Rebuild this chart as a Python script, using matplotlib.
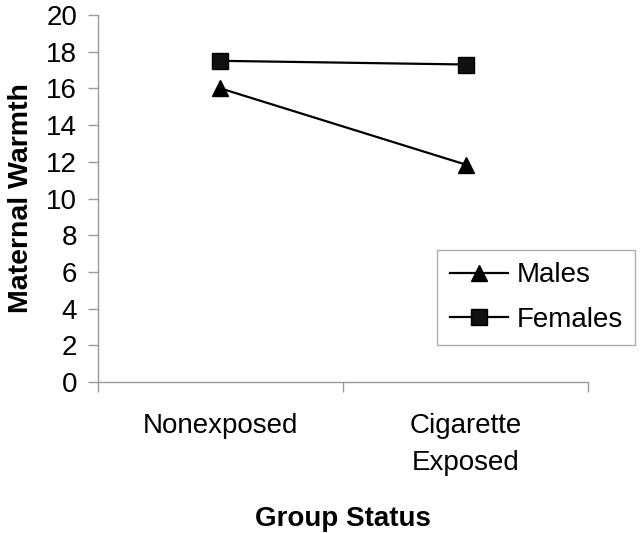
import matplotlib.pyplot as plt
from matplotlib.ticker import FixedLocator

plt.rcParams['font.family'] = ['Liberation Sans', 'DejaVu Sans']

groups = ['Nonexposed', 'Cigarette\nExposed']
males = [16.0, 11.85]
females = [17.5, 17.3]
y_ticks = list(range(0, 21, 2))

fig = plt.figure(figsize=(6.4, 5.33), dpi=100)
ax = fig.add_axes([0.153, 0.283, 0.766, 0.689])

x = list(range(len(groups)))
ax.plot(x, males, color='black', lw=1.6, marker='^', ms=12, label='Males')
ax.plot(x, females, color='black', lw=1.6, marker='s', ms=11, markerfacecolor='#111111',
        label='Females')

ax.set_xlim(-0.5, len(groups) - 0.5)
ax.set_ylim(0, 20)
ax.set_yticks(y_ticks)
ax.set_xticks(x)
ax.set_xticklabels(groups, fontsize=20, linespacing=1.55)
ax.xaxis.set_minor_locator(FixedLocator([i - 0.5 for i in range(len(groups) + 1)]))
ax.tick_params(axis='x', which='major', length=0, pad=22)
ax.tick_params(axis='x', which='minor', length=7, color='#999999', width=1, direction='out')
ax.tick_params(axis='y', labelsize=20, length=7, color='#999999', width=1, pad=8)

for side in ['top', 'right']:
    ax.spines[side].set_visible(False)
for side in ['left', 'bottom']:
    ax.spines[side].set_color('#999999')
    ax.spines[side].set_linewidth(1)

ax.set_ylabel('Maternal Warmth', fontsize=20.5, fontweight='bold', labelpad=9)
ax.set_xlabel('Group Status', fontsize=20, fontweight='bold', labelpad=22)

leg = ax.legend(loc='upper left', bbox_to_anchor=(0.683, 0.531),
                bbox_transform=fig.transFigure, borderaxespad=0, fontsize=20,
                frameon=True, fancybox=False, edgecolor='#999999', borderpad=0.45,
                handlelength=2.1, labelspacing=0.65, handletextpad=0.3)
leg.get_frame().set_linewidth(1)

fig.savefig('out.png', dpi=100)
